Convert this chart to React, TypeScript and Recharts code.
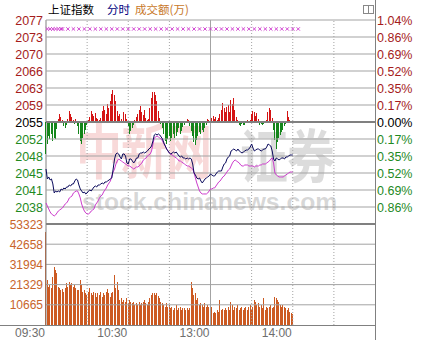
import React from 'react';
import { ComposedChart, Bar, Line, Scatter, XAxis, YAxis, ReferenceLine, Cell } from 'recharts';

// ---------------- data ----------------
const PREV_CLOSE = 2055.4;
const PANEL_PCT = 0.0104; // 1.04% above / below previous close

const timeLabels = ['09:30', '10:30', '13:00', '14:00'];
const timeTickMinutes = [0, 60, 120, 180];
const dottedGridMinutes = [30, 60, 90, 150, 180, 210];
const sessionBreakMinute = 120;
const sessionMinutes = 240;

const priceTickLabels = ['2077', '2073', '2070', '2066', '2063', '2059', '2055', '2052', '2048', '2045', '2041', '2038'];
const pctTickLabels = ['1.04%', '0.86%', '0.69%', '0.52%', '0.35%', '0.17%', '0.00%', '0.17%', '0.35%', '0.52%', '0.69%', '0.86%'];
const volumeTickLabels = ['53323', '42658', '31994', '21329', '10665'];

// 上证指数 (minute 0 = 09:30)
const priceSeries = [
  2045.55, 2043.46, 2043.88, 2043.25, 2043.46, 2042.41, 2040.53, 2040.94, 2040.73, 2040.94,
  2040.73, 2041.36, 2041.15, 2041.57, 2041.36, 2041.78, 2041.78, 2042.20, 2041.99, 2042.41,
  2042.41, 2043.04, 2043.46, 2043.25, 2042.20, 2041.36, 2040.94, 2040.53, 2040.73, 2040.32,
  2040.53, 2040.94, 2041.15, 2040.94, 2041.36, 2041.78, 2041.99, 2041.78, 2042.20, 2042.20,
  2042.41, 2042.62, 2042.41, 2042.83, 2042.83, 2043.04, 2043.25, 2043.46, 2043.67, 2045.55,
  2047.65, 2048.70, 2048.90, 2048.70, 2048.07, 2047.65, 2048.70, 2048.70, 2048.28, 2046.81,
  2046.60, 2047.65, 2047.65, 2047.23, 2046.81, 2047.23, 2047.86, 2047.86, 2048.70, 2048.90,
  2048.90, 2049.11, 2048.90, 2049.11, 2049.32, 2049.74, 2049.95, 2050.37, 2051.42, 2052.68,
  2052.89, 2052.68, 2052.89, 2052.68, 2052.26, 2051.84, 2051.00, 2050.37, 2049.74, 2049.32,
  2048.90, 2048.70, 2048.90, 2049.11, 2048.90, 2049.11, 2048.70, 2048.28, 2048.07, 2048.28,
  2047.86, 2047.86, 2047.65, 2047.86, 2047.65, 2047.86, 2047.65, 2046.60, 2044.71, 2044.30,
  2043.67, 2043.46, 2043.67, 2043.04, 2042.62, 2043.04, 2043.46, 2043.67, 2043.88, 2044.09,
  2044.51, 2044.30, 2044.09, 2044.09, 2044.51, 2044.92, 2045.13, 2045.13, 2045.13, 2045.97,
  2046.60, 2046.81, 2047.65, 2048.07, 2048.28, 2049.32, 2049.53, 2049.74, 2049.53, 2049.32,
  2049.74, 2049.32, 2049.11, 2048.90, 2049.11, 2049.32, 2049.53, 2049.53, 2049.74, 2050.16,
  2050.79, 2049.95, 2049.32, 2049.53, 2049.74, 2049.74, 2049.53, 2049.32, 2049.53, 2049.74,
  2049.74, 2050.16, 2050.79, 2050.58, 2050.37, 2049.32, 2047.65, 2047.23, 2047.86, 2047.65,
  2047.44, 2047.65, 2047.86, 2047.86, 2047.65, 2048.07, 2048.07, 2048.28, 2048.49, 2048.49,
  2048.49,
];

// 不含加权指数 (magenta line)
const avgSeries = [
  2038.43, 2037.80, 2037.17, 2036.55, 2036.13, 2035.92, 2035.71, 2035.92, 2036.34, 2036.75,
  2036.96, 2037.17, 2037.38, 2037.80, 2038.22, 2038.43, 2038.85, 2039.48, 2039.69, 2039.90,
  2040.53, 2040.73, 2040.94, 2040.94, 2040.32, 2039.48, 2038.22, 2037.38, 2036.75, 2036.34,
  2036.13, 2036.13, 2036.34, 2036.75, 2036.96, 2037.17, 2038.01, 2038.43, 2038.85, 2039.48,
  2039.90, 2040.11, 2040.73, 2041.15, 2041.57, 2042.20, 2042.62, 2043.04, 2044.09, 2044.92,
  2045.55, 2046.60, 2047.23, 2047.65, 2047.44, 2047.23, 2047.02, 2046.81, 2046.60, 2046.39,
  2046.18, 2046.18, 2045.97, 2045.76, 2045.55, 2045.76, 2045.97, 2045.97, 2046.18, 2046.60,
  2046.81, 2047.44, 2047.65, 2047.86, 2048.28, 2048.49, 2048.70, 2049.32, 2050.79, 2052.05,
  2052.26, 2052.47, 2052.26, 2052.05, 2051.84, 2051.42, 2050.79, 2050.37, 2049.74, 2049.32,
  2048.90, 2048.70, 2048.49, 2048.28, 2048.07, 2047.86, 2047.65, 2047.23, 2047.23, 2047.02,
  2046.81, 2046.60, 2046.39, 2046.18, 2046.18, 2045.97, 2045.76, 2045.55, 2044.71, 2043.67,
  2042.62, 2041.78, 2040.94, 2040.53, 2040.32, 2040.32, 2040.32, 2040.32, 2040.53, 2040.94,
  2041.36, 2041.36, 2041.57, 2041.57, 2041.99, 2042.41, 2042.83, 2043.04, 2043.46, 2043.88,
  2044.09, 2044.51, 2044.92, 2045.34, 2045.55, 2046.18, 2046.81, 2047.23, 2047.44, 2047.23,
  2047.02, 2046.81, 2046.39, 2046.18, 2046.18, 2046.39, 2046.39, 2046.39, 2046.18, 2046.18,
  2046.18, 2046.18, 2045.97, 2046.18, 2046.18, 2046.18, 2046.39, 2046.39, 2046.60, 2046.60,
  2046.60, 2046.81, 2047.02, 2047.23, 2047.65, 2047.86, 2046.81, 2044.71, 2044.30, 2044.09,
  2043.88, 2043.88, 2043.88, 2043.88, 2044.09, 2044.30, 2044.51, 2044.71, 2044.92, 2044.92,
  2044.92,
];

// red / green strength bars around the 0.00% line
const leadSeries = [
  -31, -22, -14, -17, -12, -19, -16, -17, -7, 3,
  8, 5, 2, -4, -6, -3, 3, 11, 8, 5,
  2, -2, 3, -4, -12, -19, -22, -16, -12, -8,
  -3, 2, 5, 11, 8, 6, 9, 4, 3, 2,
  4, 11, 16, 12, 8, 18, 14, 21, 27, 31,
  26, 21, 11, 6, 8, 3, 1, 10, 8, 3,
  -4, -12, -9, -6, -3, 2, 5, 8, 12, 16,
  10, 7, 12, 4, 2, 3, 14, 24, 29, 29,
  26, 21, 11, 4, -2, -6, -12, -19, -22, -17,
  -14, -19, -16, -12, -16, -14, -10, -6, -12, -9,
  -5, -3, 1, 3, 2, -4, -9, -14, -20, -23,
  -18, -14, -10, -12, -8, -10, -6, -3, 3, 2,
  1, 4, 6, 3, 5, 2, 4, 8, 12, 19,
  14, 10, 15, 17, 10, 22, 18, 24, 12, 5,
  2, -3, -4, -2, -3, -3, -1, 2, 1, 2,
  8, 11, 10, 6, 9, 3, -3, -2, -3, -2,
  -1, 2, 10, 14, 12, 4, -8, -18, -26, -20,
  -16, -13, -10, -8, -4, -2, 11, 5, 2, 0,
  1,
];

// 成交额 (万)
const volumeSeries = [
  49280, 23760, 20240, 21120, 19360, 25520, 30800, 29040, 27280, 20240,
  19360, 18480, 18830, 17600, 19360, 22000, 20240, 22880, 21120, 22000,
  20240, 21120, 19360, 18480, 18480, 23760, 21120, 17600, 18480, 16720,
  15840, 17600, 19360, 16720, 15840, 17600, 16720, 14960, 16720, 15840,
  17600, 14960, 16720, 15840, 17600, 18830, 16720, 14960, 16720, 17600,
  26400, 19360, 22880, 18480, 13200, 14080, 12320, 13200, 12320, 14080,
  11440, 13200, 12320, 11440, 12320, 10560, 11440, 10560, 12320, 10560,
  11440, 12320, 13200, 11440, 10560, 12320, 14080, 15840, 16720, 16720,
  15840, 16720, 15310, 14080, 12320, 11440, 10560, 9680, 11440, 9680,
  10560, 8800, 9680, 7920, 8800, 10560, 7920, 8800, 9680, 7920,
  8800, 8800, 7920, 8800, 7920, 8800, 22880, 19360, 15840, 16720,
  13200, 14080, 10560, 11440, 10560, 9680, 11440, 9680, 10560, 9680,
  18480, 9680, 6160, 7040, 6160, 7920, 7040, 13200, 7920, 8270,
  7920, 8800, 7920, 9680, 7920, 12320, 10560, 7920, 9680, 8800,
  10560, 7920, 8800, 9680, 7920, 8800, 9680, 7920, 9680, 10560,
  7920, 9680, 13200, 12320, 10560, 11440, 9680, 10560, 8800, 14080,
  7920, 9680, 8800, 9680, 10560, 8800, 9680, 14960, 14080, 13200,
  12320, 10560, 9680, 10560, 9680, 8800, 7920, 8800, 7040, 6160,
  5810,
];

// minutes carrying a signal mark (×) and the index level they sit at
const signalMinutes = [
  1, 3, 5, 7, 9, 11, 12, 16, 20, 24, 28, 32, 36, 40, 44, 48, 52, 56, 60, 64, 68, 72, 76, 80,
  84, 88, 92, 96, 100, 104, 108, 112, 116, 120, 124, 128, 132, 136, 140, 144, 148, 152, 156,
  160, 164, 168, 172, 176, 180, 184,
];
const SIGNAL_LEVEL = 2074.9;

// ---------------- layout ----------------
const W = 421;
const H = 340;
const TOP = 20;
const SPLIT = 224;
const BOTTOM = 325;
const AXIS_W = 46;
const RIGHT = W - AXIS_W;

const STEP = PANEL_PCT / 6;
const priceTicks = priceTickLabels.map((_, i) => PREV_CLOSE * (1 + (6 - i) * STEP));
const PRICE_HI = PREV_CLOSE * (1 + PANEL_PCT);
const PRICE_PANEL_LO = PREV_CLOSE * (1 - PANEL_PCT);
const PRICE_LO = PRICE_PANEL_LO - (PRICE_HI - PRICE_PANEL_LO) * (BOTTOM - SPLIT) / (SPLIT - TOP);

const LEAD_HALF = 100;
const LEAD_LO = -LEAD_HALF - 2 * LEAD_HALF * (BOTTOM - SPLIT) / (SPLIT - TOP);

const volumeTicks = volumeTickLabels.map((s) => Number(s));
const VOL_MAX = volumeTicks[0];
const VOL_TOP = VOL_MAX * (BOTTOM - TOP) / (BOTTOM - SPLIT);

const rows = priceSeries.map((p, i) => ({
  m: i,
  price: p,
  avg: avgSeries[i],
  lead: leadSeries[i],
  vol: volumeSeries[i],
}));
const signalRows = signalMinutes.map((m) => ({ m, lvl: SIGNAL_LEVEL }));

const FONT = '"Liberation Sans", Arial, sans-serif';
const CJK = '"Noto Sans CJK SC", "Noto Sans", sans-serif';
const RED_TXT = '#a51c1c';
const GREEN_TXT = '#1f8a1f';
const VOL_TXT = '#c8642a';
const GRID = '#a3a3a3';
const DARK_GRID = '#808080';

const tickIndex = (v: number) => priceTicks.findIndex((t) => Math.abs(t - v) < 1e-6);
const tickColor = (i: number) => (i < 6 ? RED_TXT : i === 6 ? '#000' : GREEN_TXT);

const PriceTick = (props: any) => {
  const { x, y, payload } = props;
  const i = tickIndex(payload.value);
  return (
    <text x={x} y={y} dy={4.5} textAnchor="end" fontSize={12.5} fontFamily={FONT} fill={tickColor(i)}>
      {priceTickLabels[i]}
    </text>
  );
};
const PctTick = (props: any) => {
  const { x, y, payload } = props;
  const i = tickIndex(payload.value);
  return (
    <text x={x} y={y} dy={4.5} textAnchor="start" fontSize={12.5} fontFamily={FONT} fill={tickColor(i)}>
      {pctTickLabels[i]}
    </text>
  );
};
const VolTick = (anchor: 'start' | 'end') => (props: any) => {
  const { x, y, payload } = props;
  const i = volumeTicks.indexOf(payload.value);
  return (
    <text x={x} y={y} dy={4.5} textAnchor={anchor} fontSize={12} fontFamily={FONT} fill={VOL_TXT}>
      {volumeTickLabels[i]}
    </text>
  );
};
const TimeTick = (props: any) => {
  const { x, y, payload } = props;
  const i = timeTickMinutes.indexOf(payload.value);
  return (
    <text x={x - 1} y={y} dy={12} textAnchor="end" fontSize={12} fontFamily={FONT} fill="#6e6e6e">
      {timeLabels[i]}
    </text>
  );
};
const SignalMark = (props: any) => {
  const { cx, cy } = props;
  if (cx == null || cy == null) return null;
  const r = 1.7;
  return (
    <g stroke="#cc33cc" strokeWidth={0.9}>
      <line x1={cx - r} y1={cy - r} x2={cx + r} y2={cy + r} />
      <line x1={cx - r} y1={cy + r} x2={cx + r} y2={cy - r} />
    </g>
  );
};

const abs = (s: React.CSSProperties): React.CSSProperties => ({ position: 'absolute', ...s });

export default function App() {
  return (
    <div style={abs({ left: 0, top: 0, width: W, height: H, background: '#fff', overflow: 'hidden' })}>
      {/* watermark */}
      <div style={abs({ left: 76, top: 118, fontSize: 46, fontWeight: 700, fontFamily: CJK, color: 'rgba(228,110,110,0.26)', lineHeight: 1, letterSpacing: -1, whiteSpace: 'nowrap', transform: 'scaleY(1.3)', transformOrigin: 'top left' })}>
        中新网
      </div>
      <div style={abs({ left: 240, top: 124, fontSize: 48, fontWeight: 700, fontFamily: CJK, color: 'rgba(150,150,150,0.33)', lineHeight: 1, letterSpacing: -1, whiteSpace: 'nowrap', transform: 'scaleY(1.2)', transformOrigin: 'top left' })}>
        证券
      </div>
      <div style={abs({ left: 82, top: 190, fontSize: 24.7, fontWeight: 700, fontFamily: FONT, color: 'rgba(150,150,150,0.38)', lineHeight: 1, whiteSpace: 'nowrap' })}>
        stock.chinanews.com
      </div>

      {/* volume panel + vertical grid */}
      <div style={abs({ left: 0, top: 0 })}>
        <ComposedChart width={W} height={H} data={rows} margin={{ top: TOP, right: 0, bottom: 0, left: 0 }}>
          <XAxis
            dataKey="m"
            type="number"
            domain={[0, sessionMinutes]}
            ticks={timeTickMinutes}
            interval={0}
            height={H - BOTTOM}
            axisLine={false}
            tickLine={false}
            tickSize={0}
            tickMargin={0}
            tick={TimeTick}
          />
          <YAxis yAxisId="vol" orientation="left" width={AXIS_W} domain={[0, VOL_TOP]} ticks={volumeTicks} interval={0}
            axisLine={{ stroke: DARK_GRID }} tickLine={false} tickSize={0} tickMargin={3} tick={VolTick('end')} />
          <YAxis yAxisId="volR" orientation="right" width={AXIS_W} domain={[0, VOL_TOP]} ticks={volumeTicks} interval={0}
            axisLine={false} tickLine={false} tickSize={0} tickMargin={2} tick={VolTick('start')} />
          {dottedGridMinutes.map((m) => (
            <ReferenceLine key={'vx' + m} x={m} yAxisId="vol" stroke={GRID} strokeDasharray="1 2" />
          ))}
          <ReferenceLine x={sessionBreakMinute} yAxisId="vol" stroke={GRID} />
          {volumeTicks.slice(1).map((v) => (
            <ReferenceLine key={'vy' + v} y={v} yAxisId="vol" stroke={GRID} />
          ))}
          <ReferenceLine y={VOL_MAX} yAxisId="vol" stroke={DARK_GRID} strokeWidth={2} />
          <Bar dataKey="vol" yAxisId="vol" barSize={1} fill="#cc5a22" isAnimationActive={false} shapeRendering="crispEdges" />
        </ComposedChart>
      </div>

      {/* price panel */}
      <div style={abs({ left: 0, top: 0 })}>
        <ComposedChart width={W} height={H} data={rows} margin={{ top: TOP, right: 0, bottom: H - BOTTOM, left: 0 }}>
          <XAxis dataKey="m" type="number" domain={[0, sessionMinutes]} hide />
          <YAxis yAxisId="price" orientation="left" width={AXIS_W} domain={[PRICE_LO, PRICE_HI]} ticks={priceTicks} interval={0}
            axisLine={false} tickLine={false} tickSize={0} tickMargin={3} tick={PriceTick} allowDataOverflow />
          <YAxis yAxisId="pct" orientation="right" width={AXIS_W} domain={[PRICE_LO, PRICE_HI]} ticks={priceTicks} interval={0}
            axisLine={false} tickLine={false} tickSize={0} tickMargin={2} tick={PctTick} allowDataOverflow />
          <YAxis yAxisId="lead" orientation="right" width={0} hide domain={[LEAD_LO, LEAD_HALF]} allowDataOverflow />
          {priceTicks.map((t, i) =>
            i === 6 ? null : <ReferenceLine key={'py' + i} y={t} yAxisId="price" stroke={GRID} />
          )}
          <ReferenceLine y={PREV_CLOSE} yAxisId="price" stroke={DARK_GRID} strokeWidth={2} />
          <Bar dataKey="lead" yAxisId="lead" barSize={1} isAnimationActive={false} shapeRendering="crispEdges">
            {rows.map((r, i) => (
              <Cell key={i} fill={r.lead >= 0 ? '#d41414' : '#14851a'} />
            ))}
          </Bar>
          <Line dataKey="avg" yAxisId="price" stroke="#cc3ccc" strokeWidth={1} dot={false} isAnimationActive={false} />
          <Line dataKey="price" yAxisId="price" stroke="#0a0a5c" strokeWidth={1} dot={false} isAnimationActive={false} />
          <Scatter data={signalRows} dataKey="lvl" yAxisId="price" shape={SignalMark} isAnimationActive={false} />
        </ComposedChart>
      </div>

      {/* frame pieces */}
      <div style={abs({ left: RIGHT, top: 0, width: 1, height: H, background: DARK_GRID })} />
      <div style={abs({ left: 0, top: BOTTOM, width: RIGHT, height: 1, background: DARK_GRID })} />

      {/* header */}
      <div style={abs({ left: 48, top: 1, fontSize: 11.5, fontFamily: CJK, color: '#000', lineHeight: '16px', whiteSpace: 'nowrap' })}>上证指数</div>
      <div style={abs({ left: 107, top: 1, fontSize: 11.5, fontFamily: CJK, color: '#000080', lineHeight: '16px', whiteSpace: 'nowrap' })}>分时</div>
      <div style={abs({ left: 135, top: 1, fontSize: 11.5, fontFamily: CJK, color: '#c8782a', lineHeight: '16px', whiteSpace: 'nowrap' })}>成交额(万)</div>
      <div style={abs({ left: 363, top: 5, width: 9, height: 7, border: '1px solid #888', boxSizing: 'content-box' })}>
        <div style={abs({ left: 4, top: 0, width: 1, height: 7, background: '#888' })} />
      </div>
    </div>
  );
}
